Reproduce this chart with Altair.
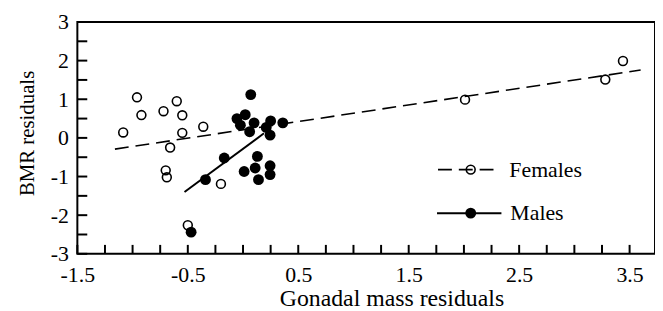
import altair as alt
import pandas as pd

# ---- data ----
fem_x = [-1.085, -0.96, -0.92, -0.72, -0.60, -0.55, -0.55, -0.36, -0.66, -0.70, -0.69, -0.20, -0.50, 2.01, 3.28, 3.44]
fem_y = [0.14, 1.05, 0.59, 0.69, 0.95, 0.585, 0.13, 0.29, -0.25, -0.84, -1.02, -1.19, -2.26, 0.99, 1.51, 1.99]
male_x = [0.07, -0.055, 0.02, -0.024, 0.06, 0.10, 0.25, 0.21, 0.245, 0.36, -0.17, 0.13, -0.34, 0.01, 0.11, 0.245, 0.245, 0.14, -0.47]
male_y = [1.12, 0.50, 0.60, 0.33, 0.16, 0.39, 0.44, 0.27, 0.07, 0.39, -0.52, -0.48, -1.08, -0.87, -0.78, -0.72, -0.95, -1.08, -2.44]
fem_line_x = [-1.16, 3.60]
fem_line_y = [-0.29, 1.755]
male_line_x = [-0.53, 0.19]
male_line_y = [-1.40, 0.12]
x_label_values = [-1.5, -0.5, 0.5, 1.5, 2.5, 3.5]
x_tick_values = [-1.5 + 0.25 * i for i in range(21)]
y_label_values = [-3, -2, -1, 0, 1, 2, 3]
y_tick_values = [-3 + 0.5 * i for i in range(13)]
legend_labels = ["Females", "Males"]

W, H = 583, 234
FONT = "Liberation Serif"
XD = [-1.5, 3.73]
YD = [-3, 3]

xs = alt.Scale(domain=XD, nice=False, zero=False)
ys = alt.Scale(domain=YD, nice=False, zero=False)

fem = pd.DataFrame({"x": fem_x, "y": fem_y})
male = pd.DataFrame({"x": male_x, "y": male_y})
fline = pd.DataFrame({"x": fem_line_x, "y": fem_line_y})
mline = pd.DataFrame({"x": male_line_x, "y": male_line_y})
xt = pd.DataFrame({"x": x_tick_values})
yt = pd.DataFrame({"y": y_tick_values})

xaxis = alt.Axis(values=x_label_values, ticks=False, domain=False, grid=False,
                 labelExpr="(datum.value < 0 ? '-' : '') + format(abs(datum.value), '.1f')",
                 labelBaseline="alphabetic", labelPadding=28,
                 title="Gonadal mass residuals", titleFontSize=24,
                 titleX=317, titleY=52, titleBaseline="alphabetic", titleAlign="center",
                 labelOverlap=False, labelFlush=False)
yaxis = alt.Axis(values=y_label_values, ticks=False, domain=False, grid=False,
                 labelExpr="(datum.value < 0 ? '-' : '') + format(abs(datum.value), 'd')",
                 labelPadding=9, labelBaseline="middle",
                 title="BMR residuals", titleFontSize=21,
                 titleX=-44, titleY=112, titleBaseline="alphabetic", titleAlign="center",
                 titleAngle=270, labelOverlap=False, labelFlush=False)

X = alt.X("x:Q", scale=xs, axis=xaxis)
Y = alt.Y("y:Q", scale=ys, axis=yaxis)

pts_f = alt.Chart(fem).mark_point(shape="circle", filled=False, color="black",
                                  size=80, strokeWidth=1.6, opacity=1).encode(x=X, y=Y)
pts_m = alt.Chart(male).mark_circle(size=120, color="black", opacity=1).encode(x=X, y=Y)
ln_f = alt.Chart(fline).mark_line(color="black", strokeWidth=1.6, strokeDash=[14, 7]).encode(x=X, y=Y)
ln_m = alt.Chart(mline).mark_line(color="black", strokeWidth=2).encode(x=X, y=Y)
xticks = alt.Chart(xt).mark_rule(color="black", strokeWidth=2).encode(
    x=X, y=alt.value(H), y2=alt.value(H - 9))
yticks = alt.Chart(yt).mark_rule(color="black", strokeWidth=2).encode(
    y=Y, x=alt.value(0), x2=alt.value(10))

# plot frame
frame = alt.Chart(pd.DataFrame({"k": [0]})).mark_rect(filled=False, stroke="black", strokeWidth=2).encode(
    x=alt.value(0), x2=alt.value(W), y=alt.value(0), y2=alt.value(H))

# legend (drawn in pixel space of the plot)
lg = pd.DataFrame({"label": legend_labels})
leg_f_line = alt.Chart(lg.iloc[[0]]).mark_rule(color="black", strokeWidth=1.6, strokeDash=[14, 7]).encode(
    x=alt.value(364), x2=alt.value(422), y=alt.value(149))
leg_f_pt = alt.Chart(lg.iloc[[0]]).mark_point(shape="circle", filled=False, color="black",
                                              size=80, strokeWidth=1.6, opacity=1).encode(
    x=alt.value(397), y=alt.value(149))
leg_m_line = alt.Chart(lg.iloc[[1]]).mark_rule(color="black", strokeWidth=2).encode(
    x=alt.value(363), x2=alt.value(428), y=alt.value(193))
leg_m_pt = alt.Chart(lg.iloc[[1]]).mark_circle(size=120, color="black", opacity=1).encode(
    x=alt.value(397), y=alt.value(193))
leg_f_txt = alt.Chart(lg.iloc[[0]]).mark_text(font=FONT, fontSize=22, align="left",
                                              baseline="alphabetic", color="black").encode(
    x=alt.value(436), y=alt.value(156), text="label:N")
leg_m_txt = alt.Chart(lg.iloc[[1]]).mark_text(font=FONT, fontSize=22, align="left",
                                              baseline="alphabetic", color="black").encode(
    x=alt.value(437), y=alt.value(200), text="label:N")

chart = alt.layer(pts_f, pts_m, ln_f, ln_m, xticks, yticks, frame,
                  leg_f_line, leg_f_pt, leg_m_line, leg_m_pt, leg_f_txt, leg_m_txt).properties(
    width=W, height=H,
    autosize=alt.AutoSizeParams(type="none"),
    padding={"left": 70, "top": 12.7, "right": 0, "bottom": 56},
    background="white",
).configure_view(stroke=None).configure_axis(
    labelFont=FONT, labelFontSize=22, labelColor="black",
    titleFont=FONT, titleFontWeight="normal", titleColor="black",
)

chart.save("out.html", embed_options={"renderer": "svg", "actions": False})
